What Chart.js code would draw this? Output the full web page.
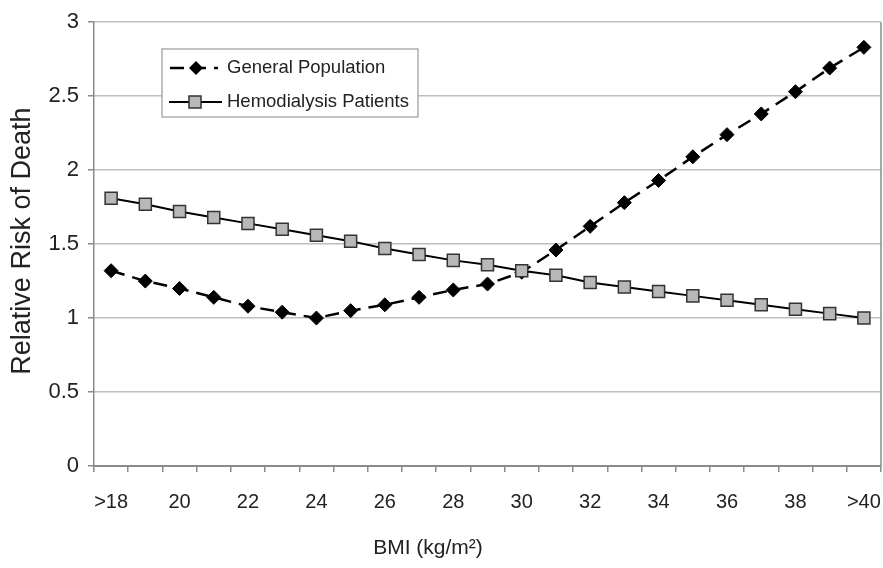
<!DOCTYPE html>
<html>
<head>
<meta charset="utf-8">
<script src="https://cdn.jsdelivr.net/npm/chart.js@4/dist/chart.umd.min.js"></script>
<style>
  html, body { margin: 0; padding: 0; background: #fff; }
  #wrap { width: 883px; height: 568px; }
</style>
</head>
<body>
<div id="wrap"><canvas id="bmiChart" width="883" height="568"></canvas></div>
<script>
// BMI categories (first and last are open-ended)
const bmiLabels = ['>18', '19', '20', '21', '22', '23', '24', '25', '26', '27', '28', '29',
                   '30', '31', '32', '33', '34', '35', '36', '37', '38', '39', '>40'];

// Relative risk of death
const generalPopulation = [1.32, 1.25, 1.20, 1.14, 1.08, 1.04, 1.00, 1.05, 1.09, 1.14, 1.19, 1.23,
                           1.31, 1.46, 1.62, 1.78, 1.93, 2.09, 2.24, 2.38, 2.53, 2.69, 2.83];
const hemodialysisPatients = [1.81, 1.77, 1.72, 1.68, 1.64, 1.60, 1.56, 1.52, 1.47, 1.43, 1.39, 1.36,
                              1.32, 1.29, 1.24, 1.21, 1.18, 1.15, 1.12, 1.09, 1.06, 1.03, 1.00];

// y axis ticks
const yMin = 0;
const yMax = 3;
const yStep = 0.5;

const FONT = '"Liberation Sans", Arial, sans-serif';
const textColor = '#222';
const gridColor = '#bdbdbd';
const axisColor = '#8a8a8a';

// draws the axis titles, the right border and the boxed legend inside the plot
const decorPlugin = {
    id: 'decor',
    afterDraw(chart) {
        const ctx = chart.ctx;
        const area = chart.chartArea;

        // right border of the plot area
        ctx.save();
        ctx.strokeStyle = axisColor;
        ctx.lineWidth = 1.5;
        ctx.beginPath();
        ctx.moveTo(area.right, area.top);
        ctx.lineTo(area.right, area.bottom);
        ctx.stroke();
        ctx.restore();

        // y axis title
        ctx.save();
        ctx.fillStyle = textColor;
        ctx.font = '27px ' + FONT;
        ctx.textAlign = 'center';
        ctx.textBaseline = 'middle';
        ctx.translate(23, (area.top + area.bottom) / 2 - 3);
        ctx.rotate(-Math.PI / 2);
        ctx.fillText('Relative Risk of Death', 0, 0);
        ctx.restore();

        // x axis title
        ctx.save();
        ctx.fillStyle = textColor;
        ctx.font = '21px ' + FONT;
        ctx.textAlign = 'center';
        ctx.textBaseline = 'middle';
        ctx.fillText('BMI (kg/m\u00B2)', 428, 548);
        ctx.restore();

        // legend box
        const box = { x: 162, y: 49, w: 256, h: 68 };
        ctx.save();
        ctx.fillStyle = '#fff';
        ctx.fillRect(box.x, box.y, box.w, box.h);
        ctx.strokeStyle = '#9a9a9a';
        ctx.lineWidth = 1.2;
        ctx.strokeRect(box.x, box.y, box.w, box.h);

        // General Population entry: dashed line + diamond
        let y = 68;
        ctx.strokeStyle = '#000';
        ctx.lineWidth = 2.5;
        ctx.setLineDash([14, 8]);
        ctx.beginPath();
        ctx.moveTo(170, y);
        ctx.lineTo(218, y);
        ctx.stroke();
        ctx.setLineDash([]);
        ctx.fillStyle = '#000';
        ctx.beginPath();
        ctx.moveTo(196, y - 7);
        ctx.lineTo(203, y);
        ctx.lineTo(196, y + 7);
        ctx.lineTo(189, y);
        ctx.closePath();
        ctx.fill();

        // Hemodialysis Patients entry: solid line + square
        y = 102;
        ctx.lineWidth = 2;
        ctx.beginPath();
        ctx.moveTo(169, y);
        ctx.lineTo(222, y);
        ctx.stroke();
        ctx.fillStyle = '#b8b8b8';
        ctx.strokeStyle = '#333';
        ctx.lineWidth = 1.5;
        ctx.fillRect(189, y - 6, 12, 12);
        ctx.strokeRect(189, y - 6, 12, 12);

        ctx.fillStyle = textColor;
        ctx.font = '18.5px ' + FONT;
        ctx.textAlign = 'left';
        ctx.textBaseline = 'middle';
        ctx.fillText('General Population', 227, 68);
        ctx.fillText('Hemodialysis Patients', 227, 102);
        ctx.restore();
    }
};

const ctx = document.getElementById('bmiChart').getContext('2d');

const bmiChart = new Chart(ctx, {
    type: 'line',
    data: {
        labels: bmiLabels,
        datasets: [
            {
                label: 'General Population',
                data: generalPopulation,
                borderColor: '#000',
                borderWidth: 2.5,
                borderDash: [14, 8],
                pointStyle: 'rectRot',
                pointRadius: 7,
                pointBackgroundColor: '#000',
                pointBorderColor: '#000',
                pointBorderWidth: 1,
                tension: 0,
                fill: false,
                order: 1
            },
            {
                label: 'Hemodialysis Patients',
                data: hemodialysisPatients,
                borderColor: '#000',
                borderWidth: 2,
                pointStyle: 'rect',
                pointRadius: 8.5,
                pointBackgroundColor: '#b8b8b8',
                pointBorderColor: '#333',
                pointBorderWidth: 1.5,
                tension: 0,
                fill: false,
                order: 0
            }
        ]
    },
    options: {
        responsive: false,
        animation: false,
        devicePixelRatio: 1,
        layout: {
            autoPadding: false,
            padding: { top: 19, right: 2, left: 0, bottom: 0 }
        },
        scales: {
            x: {
                type: 'category',
                offset: true,
                grid: {
                    offset: true,
                    drawOnChartArea: false,
                    drawTicks: true,
                    tickLength: 6,
                    tickColor: axisColor,
                    lineWidth: 1.5
                },
                border: { color: axisColor, width: 2 },
                ticks: {
                    autoSkip: false,
                    maxRotation: 0,
                    padding: 18,
                    color: textColor,
                    font: { family: FONT, size: 20 },
                    callback: (val, idx) => (idx % 2 === 0 ? bmiLabels[idx] : '')
                },
                afterFit: (scale) => {
                    scale.height = 102;
                    // labels may overhang the plot edges, as in the original
                    scale.paddingLeft = 0;
                    scale.paddingRight = 0;
                }
            },
            y: {
                min: yMin,
                max: yMax,
                grid: {
                    color: gridColor,
                    lineWidth: 1.5,
                    tickLength: 6,
                    tickColor: axisColor
                },
                border: { color: axisColor, width: 1.5 },
                ticks: {
                    stepSize: yStep,
                    padding: 9,
                    color: textColor,
                    font: { family: FONT, size: 22 },
                    callback: (v) => String(v)
                },
                afterFit: (scale) => { scale.width = 94; }
            }
        },
        plugins: {
            legend: { display: false },
            tooltip: { enabled: false }
        }
    },
    plugins: [decorPlugin]
});
</script>
</body>
</html>
